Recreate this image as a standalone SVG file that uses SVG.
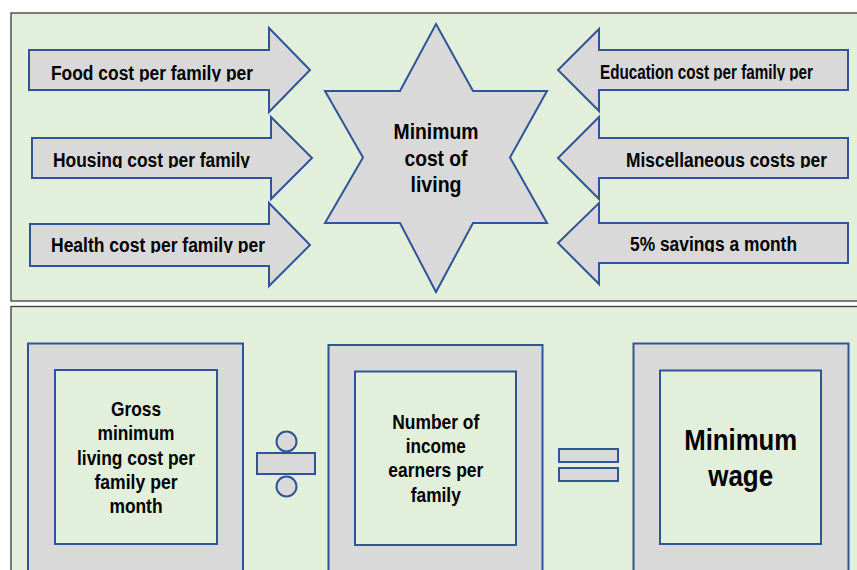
<svg xmlns="http://www.w3.org/2000/svg" width="857" height="570" viewBox="0 0 857 570">
<style>
.panel{fill:#e2efda;stroke:#3a3a3a;stroke-width:1.3}
.shape{fill:#d9d9d9;stroke:#2f5597;stroke-width:2;stroke-linejoin:miter}
.inner{fill:#e2efda;stroke:#2f5597;stroke-width:2}
.t{font-family:"Liberation Sans",Arial,Helvetica,sans-serif;font-weight:bold;fill:#000}
.a{font-size:19.5px}
.c{text-anchor:middle}
.s{font-size:22.5px}
.b{font-size:20.5px}
.w{font-size:29.5px}
</style>
<defs>
<clipPath id="cl1"><rect x="20" y="40" width="300" height="41.5"/></clipPath>
<clipPath id="cl2"><rect x="20" y="128" width="300" height="40"/></clipPath>
<clipPath id="cl3"><rect x="20" y="214" width="300" height="39"/></clipPath>
<clipPath id="cr1"><rect x="560" y="40" width="290" height="40.5"/></clipPath>
<clipPath id="cr2"><rect x="560" y="128" width="290" height="40"/></clipPath>
<clipPath id="cr3"><rect x="560" y="214" width="290" height="38"/></clipPath>
</defs>

<rect id="panel-top" class="panel" x="11" y="13" width="870" height="288"/>
<rect id="panel-bottom" class="panel" x="11" y="306.5" width="870" height="300"/>

<g id="connectors"></g>

<g id="food">
<polygon class="shape" points="29,50 269,50 269,28 310,70 269,112 269,90 29,90"/>
<text class="t a" x="51" y="80" textLength="202" lengthAdjust="spacingAndGlyphs" clip-path="url(#cl1)">Food cost per family per</text>
</g>
<g id="housing">
<polygon class="shape" points="32,138 271,138 271,117 312,158 271,199 271,178 32,178"/>
<text class="t a" x="53" y="166.7" textLength="197" lengthAdjust="spacingAndGlyphs" clip-path="url(#cl2)">Housing cost per family</text>
</g>
<g id="health">
<polygon class="shape" points="30,224 269,224 269,203 310,245 269,286 269,266 30,266"/>
<text class="t a" x="51" y="251.5" textLength="214" lengthAdjust="spacingAndGlyphs" clip-path="url(#cl3)">Health cost per family per</text>
</g>

<g id="education">
<polygon class="shape" points="848,50 599,50 599,29 558,70 599,111 599,90 848,90"/>
<text class="t a" x="600" y="79" textLength="213" lengthAdjust="spacingAndGlyphs" clip-path="url(#cr1)">Education cost per family per</text>
</g>
<g id="misc">
<polygon class="shape" points="848,138 599,138 599,117 558,158 599,199 599,178 848,178"/>
<text class="t a" x="626" y="166.7" textLength="201" lengthAdjust="spacingAndGlyphs" clip-path="url(#cr2)">Miscellaneous costs per</text>
</g>
<g id="savings">
<polygon class="shape" points="848,223 599,223 599,203 558,243 599,284 599,263 848,263"/>
<text class="t a" x="630" y="250.7" textLength="167" lengthAdjust="spacingAndGlyphs" clip-path="url(#cr3)">5% savings a month</text>
</g>

<g id="star">
<polygon class="shape" points="436,24 473,91 547,91 510,157.5 547,223 473,223 436,292 400,223 325,223 363,157.5 325,91 400,91"/>
<text class="t s c" x="436" y="139" textLength="85" lengthAdjust="spacingAndGlyphs">Minimum</text>
<text class="t s c" x="436" y="165.5" textLength="63" lengthAdjust="spacingAndGlyphs">cost of</text>
<text class="t s c" x="436" y="192" textLength="51" lengthAdjust="spacingAndGlyphs">living</text>
</g>

<g id="gross">
<rect class="shape" x="28" y="343.5" width="215" height="260"/>
<rect class="inner" x="55" y="370" width="162" height="174"/>
<text class="t b c" x="136" y="416" textLength="50" lengthAdjust="spacingAndGlyphs">Gross</text>
<text class="t b c" x="136" y="440.3" textLength="77" lengthAdjust="spacingAndGlyphs">minimum</text>
<text class="t b c" x="136" y="464.6" textLength="118" lengthAdjust="spacingAndGlyphs">living cost per</text>
<text class="t b c" x="136" y="488.9" textLength="83" lengthAdjust="spacingAndGlyphs">family per</text>
<text class="t b c" x="136" y="513.2" textLength="53" lengthAdjust="spacingAndGlyphs">month</text>
</g>

<g id="divide">
<circle class="shape" cx="286.5" cy="441.5" r="10"/>
<rect class="shape" x="257" y="453" width="58" height="21"/>
<circle class="shape" cx="286.5" cy="486.5" r="10"/>
</g>

<g id="earners">
<rect class="shape" x="328.5" y="345" width="214" height="260"/>
<rect class="inner" x="355" y="371.5" width="161" height="173.5"/>
<text class="t b c" x="435.8" y="428.5" textLength="87" lengthAdjust="spacingAndGlyphs">Number of</text>
<text class="t b c" x="435.8" y="452.9" textLength="60" lengthAdjust="spacingAndGlyphs">income</text>
<text class="t b c" x="435.8" y="477.3" textLength="95" lengthAdjust="spacingAndGlyphs">earners per</text>
<text class="t b c" x="435.8" y="501.7" textLength="50" lengthAdjust="spacingAndGlyphs">family</text>
</g>

<g id="equals">
<rect class="shape" x="559" y="449" width="59" height="13"/>
<rect class="shape" x="559" y="468" width="59" height="13"/>
</g>

<g id="wage">
<rect class="shape" x="633.5" y="343.5" width="215" height="260"/>
<rect class="inner" x="660" y="370.5" width="161" height="173.5"/>
<text class="t w c" x="740.7" y="450" textLength="113" lengthAdjust="spacingAndGlyphs">Minimum</text>
<text class="t w c" x="740.7" y="485.5" textLength="65" lengthAdjust="spacingAndGlyphs">wage</text>
</g>
</svg>
